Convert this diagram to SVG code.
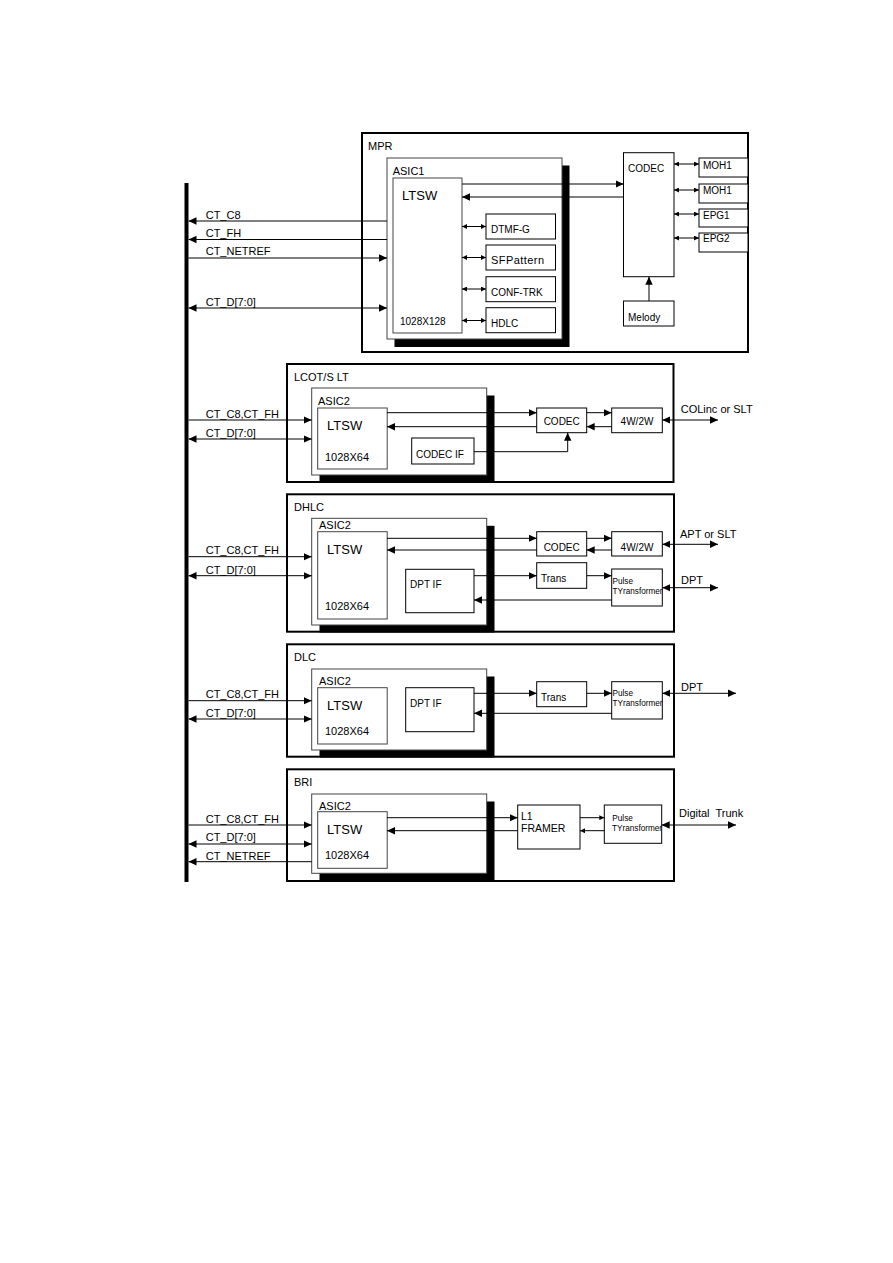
<svg xmlns="http://www.w3.org/2000/svg" width="893" height="1263" viewBox="0 0 893 1263">
<style>
.sec{fill:#fff;stroke:#000;stroke-width:2}
.box{fill:#fff;stroke:#000;stroke-width:1}
.asic{fill:#fff;stroke:#444;stroke-width:1}
.sh{fill:#000}
text{font-family:"Liberation Sans",Arial,sans-serif;fill:#000}
.t11{font-size:11px}
.t10{font-size:10px}
.t95{font-size:10px}
.t13{font-size:13px}
.t8{font-size:8.2px}
.c{stroke:#000;stroke-width:1;fill:none}
.b{marker-end:url(#a)}
.bb{marker-start:url(#a);marker-end:url(#a)}
.s{marker-end:url(#sa)}
.ss{marker-start:url(#sa);marker-end:url(#sa)}
</style>
<defs>
<marker id="a" markerUnits="userSpaceOnUse" markerWidth="8" markerHeight="8" refX="8" refY="4" orient="auto-start-reverse" viewBox="0 0 8 8"><path d="M0,0.3 L8,4 L0,7.7 z" fill="#000"/></marker>
<marker id="sa" markerUnits="userSpaceOnUse" markerWidth="5" markerHeight="5" refX="5" refY="2.5" orient="auto-start-reverse" viewBox="0 0 5 5"><path d="M0,0 L5,2.5 L0,5 z" fill="#000"/></marker>
</defs>
<rect width="893" height="1263" fill="#fff"/>

<g id="bus"><line x1="186.5" y1="183" x2="186.5" y2="882" stroke="#000" stroke-width="4"/></g>

<!-- MPR -->
<g id="mpr">
<rect class="sec" x="362" y="133" width="386" height="219"/>
<text class="t11" x="368" y="149.7">MPR</text>
</g>
<g id="mpr-asic1">
<rect class="sh" x="394.5" y="165.5" width="175" height="181.5"/>
<rect class="asic" x="387" y="158" width="175" height="181"/>
<text class="t11" x="392.7" y="174.7">ASIC1</text>
</g>
<g id="mpr-ltsw">
<rect class="asic" x="393" y="178" width="69" height="155"/>
<text class="t13" x="402" y="200">LTSW</text>
<text class="t10" x="400" y="324.6">1028X128</text>
</g>
<g id="mpr-dtmf"><rect class="box" x="486" y="214" width="69.5" height="25"/><text class="t10" x="491" y="233">DTMF-G</text></g>
<g id="mpr-sfp"><rect class="box" x="486" y="245" width="69.5" height="25"/><text class="t11" x="491" y="264.3" textLength="53" lengthAdjust="spacing">SFPattern</text></g>
<g id="mpr-conf"><rect class="box" x="486" y="276.7" width="69.5" height="25"/><text class="t10" x="491" y="296">CONF-TRK</text></g>
<g id="mpr-hdlc"><rect class="box" x="486" y="307.7" width="69.5" height="25"/><text class="t10" x="491" y="327">HDLC</text></g>
<g id="mpr-codec"><rect class="box" x="623.5" y="152.7" width="50.5" height="124"/><text class="t10" x="628" y="172">CODEC</text></g>
<g id="mpr-melody"><rect class="box" x="623.5" y="301" width="50.5" height="25"/><text class="t10" x="628" y="321">Melody</text></g>
<g id="mpr-moh1a"><rect class="box" x="699" y="158" width="49" height="19"/><text class="t95" x="703" y="168.5">MOH1</text></g>
<g id="mpr-moh1b"><rect class="box" x="699" y="184" width="49" height="19"/><text class="t95" x="703" y="194">MOH1</text></g>
<g id="mpr-epg1"><rect class="box" x="699" y="209" width="49" height="18"/><text class="t95" x="703" y="218.5">EPG1</text></g>
<g id="mpr-epg2"><rect class="box" x="699" y="233" width="49" height="19"/><text class="t95" x="703" y="242">EPG2</text></g>

<!-- LCOT/SLT -->
<g id="lcot">
<rect class="sec" x="287" y="364" width="386.5" height="118"/>
<text class="t11" x="294" y="380.5" xml:space="preserve">LCOT/S LT</text>
</g>
<g id="lcot-asic2">
<rect class="sh" x="319.5" y="395.5" width="175" height="87"/>
<rect class="asic" x="311.7" y="388" width="175" height="87"/>
<text class="t11" x="318" y="405.2">ASIC2</text>
</g>
<g id="lcot-ltsw">
<rect class="asic" x="317.7" y="408" width="69.5" height="61"/>
<text class="t13" x="327" y="429.7">LTSW</text>
<text class="t11" x="325" y="460.6">1028X64</text>
</g>
<g id="lcot-codecif"><rect class="box" x="411.7" y="438" width="62.3" height="26"/><text class="t10" x="416" y="458">CODEC IF</text></g>
<g id="lcot-codec"><rect class="box" x="536.7" y="408" width="50" height="24.7"/><text class="t10" x="561.7" y="424.5" text-anchor="middle">CODEC</text></g>
<g id="lcot-4w2w"><rect class="box" x="611.7" y="408" width="50.6" height="24.7"/><text class="t10" x="637" y="424.5" text-anchor="middle">4W/2W</text></g>

<!-- DHLC -->
<g id="dhlc">
<rect class="sec" x="287" y="494.3" width="387" height="137.4"/>
<text class="t11" x="294" y="510.5">DHLC</text>
</g>
<g id="dhlc-asic2">
<rect class="sh" x="319.5" y="525.8" width="175" height="106.7"/>
<rect class="asic" x="311.7" y="518.3" width="175" height="106.7"/>
<text class="t11" x="319" y="529">ASIC2</text>
</g>
<g id="dhlc-ltsw">
<rect class="asic" x="317.7" y="531.7" width="69.5" height="87.3"/>
<text class="t13" x="327" y="554">LTSW</text>
<text class="t11" x="325" y="610">1028X64</text>
</g>
<g id="dhlc-dptif"><rect class="box" x="405.7" y="569.3" width="68.3" height="43.4"/><text class="t10" x="410" y="588">DPT IF</text></g>
<g id="dhlc-codec"><rect class="box" x="536.7" y="531.7" width="50" height="24.3"/><text class="t10" x="561.7" y="551" text-anchor="middle">CODEC</text></g>
<g id="dhlc-4w2w"><rect class="box" x="611.7" y="531.7" width="50.6" height="24.3"/><text class="t10" x="637" y="551" text-anchor="middle">4W/2W</text></g>
<g id="dhlc-trans"><rect class="box" x="536.7" y="562.7" width="50" height="25.6"/><text class="t10" x="541" y="582">Trans</text></g>
<g id="dhlc-pulse"><rect class="box" x="611.7" y="569" width="50.6" height="37"/><text class="t8" x="612.5" y="583.5">Pulse</text><text class="t8" x="612.5" y="594">TYransformer</text></g>

<!-- DLC -->
<g id="dlc">
<rect class="sec" x="287" y="644.3" width="387" height="112.4"/>
<text class="t11" x="294" y="660.5">DLC</text>
</g>
<g id="dlc-asic2">
<rect class="sh" x="319.5" y="676.5" width="175" height="81"/>
<rect class="asic" x="311.7" y="669" width="175" height="81"/>
<text class="t11" x="319" y="685.3">ASIC2</text>
</g>
<g id="dlc-ltsw">
<rect class="asic" x="317.7" y="687.7" width="69.5" height="56.3"/>
<text class="t13" x="327" y="709.7">LTSW</text>
<text class="t11" x="325" y="734.6">1028X64</text>
</g>
<g id="dlc-dptif"><rect class="box" x="405.7" y="687.7" width="68.3" height="44"/><text class="t10" x="410" y="707">DPT IF</text></g>
<g id="dlc-trans"><rect class="box" x="536.7" y="681.7" width="50" height="25"/><text class="t10" x="541" y="701">Trans</text></g>
<g id="dlc-pulse"><rect class="box" x="611.7" y="681.7" width="50.6" height="37.3"/><text class="t8" x="612.5" y="695.5">Pulse</text><text class="t8" x="612.5" y="706">TYransformer</text></g>

<!-- BRI -->
<g id="bri">
<rect class="sec" x="287" y="769.3" width="387" height="111.7"/>
<text class="t11" x="294" y="785.5">BRI</text>
</g>
<g id="bri-asic2">
<rect class="sh" x="319.5" y="801.5" width="175" height="79.5"/>
<rect class="asic" x="311.7" y="794" width="175" height="79.3"/>
<text class="t11" x="319" y="809.6">ASIC2</text>
</g>
<g id="bri-ltsw">
<rect class="asic" x="317.7" y="811.7" width="69.5" height="56.6"/>
<text class="t13" x="327" y="834">LTSW</text>
<text class="t11" x="325" y="859">1028X64</text>
</g>
<g id="bri-l1"><rect class="box" x="517.7" y="805" width="62.3" height="44"/><text class="t10" x="521" y="819.5" style="font-size:10.5px">L1</text><text class="t10" x="521" y="832" style="font-size:10.5px">FRAMER</text></g>
<g id="bri-pulse"><rect class="box" x="604.3" y="805" width="57.4" height="38.3"/><text class="t8" x="612.3" y="820.5">Pulse</text><text class="t8" x="612" y="830.5">TYransformer</text></g>

<!-- connectors -->
<g id="connectors">
<!-- MPR -->
<line class="c b" x1="387" y1="221" x2="188.5" y2="221"/>
<line class="c b" x1="387" y1="239.5" x2="188.5" y2="239.5"/>
<line class="c b" x1="188.5" y1="258" x2="387" y2="258"/>
<line class="c bb" x1="188.5" y1="308" x2="387" y2="308"/>
<line class="c b" x1="462" y1="184" x2="623.5" y2="184"/>
<line class="c b" x1="623.5" y1="197" x2="462" y2="197"/>
<line class="c ss" x1="462" y1="226.5" x2="486" y2="226.5"/>
<line class="c ss" x1="462" y1="257.5" x2="486" y2="257.5"/>
<line class="c ss" x1="462" y1="289" x2="486" y2="289"/>
<line class="c ss" x1="462" y1="320.5" x2="486" y2="320.5"/>
<line class="c ss" x1="674" y1="164" x2="699" y2="164"/>
<line class="c ss" x1="674" y1="190" x2="699" y2="190"/>
<line class="c ss" x1="674" y1="214" x2="699" y2="214"/>
<line class="c ss" x1="674" y1="238" x2="699" y2="238"/>
<line class="c b" x1="649" y1="301" x2="649" y2="276.7"/>
<!-- LCOT -->
<line class="c b" x1="188.5" y1="420" x2="311.7" y2="420"/>
<line class="c bb" x1="188.5" y1="439" x2="311.7" y2="439"/>
<line class="c b" x1="387" y1="412.7" x2="536.7" y2="412.7"/>
<line class="c b" x1="536.7" y1="426.7" x2="387" y2="426.7"/>
<polyline class="c b" points="474,451.7 567.7,451.7 567.7,432.7"/>
<line class="c b" x1="586.7" y1="412.7" x2="611.7" y2="412.7"/>
<line class="c b" x1="611.7" y1="426.7" x2="586.7" y2="426.7"/>
<line class="c bb" x1="662.3" y1="420" x2="718" y2="420"/>
<text class="t11" x="680.7" y="413">COLinc or SLT</text>
<text class="t11" x="205.7" y="418.3">CT_C8,CT_FH</text>
<text class="t11" x="205.7" y="436.6">CT_D[7:0]</text>
<!-- DHLC -->
<line class="c b" x1="188.5" y1="556.7" x2="311.7" y2="556.7"/>
<line class="c bb" x1="188.5" y1="575.7" x2="311.7" y2="575.7"/>
<line class="c b" x1="387" y1="538.3" x2="536.7" y2="538.3"/>
<line class="c b" x1="536.7" y1="550" x2="387" y2="550"/>
<line class="c b" x1="586.7" y1="538.3" x2="611.7" y2="538.3"/>
<line class="c b" x1="611.7" y1="550" x2="586.7" y2="550"/>
<line class="c bb" x1="662.3" y1="544.3" x2="718" y2="544.3"/>
<line class="c b" x1="474" y1="575.7" x2="536.7" y2="575.7"/>
<line class="c b" x1="586.7" y1="575.7" x2="611.7" y2="575.7"/>
<line class="c b" x1="611.7" y1="600" x2="474" y2="600"/>
<line class="c bb" x1="662.3" y1="587.7" x2="718" y2="587.7"/>
<text class="t11" x="680" y="538">APT or SLT</text>
<text class="t11" x="681" y="584">DPT</text>
<text class="t11" x="205.7" y="554">CT_C8,CT_FH</text>
<text class="t11" x="205.7" y="574">CT_D[7:0]</text>
<!-- DLC -->
<line class="c b" x1="188.5" y1="700.7" x2="311.7" y2="700.7"/>
<line class="c bb" x1="188.5" y1="719" x2="311.7" y2="719"/>
<line class="c b" x1="474" y1="693.3" x2="536.7" y2="693.3"/>
<line class="c b" x1="586.7" y1="693.3" x2="611.7" y2="693.3"/>
<line class="c b" x1="611.7" y1="713.3" x2="474" y2="713.3"/>
<line class="c bb" x1="662.3" y1="693.3" x2="736" y2="693.3"/>
<text class="t11" x="681" y="691.3">DPT</text>
<text class="t11" x="205.7" y="698">CT_C8,CT_FH</text>
<text class="t11" x="205.7" y="716.6">CT_D[7:0]</text>
<!-- BRI -->
<line class="c b" x1="188.5" y1="825" x2="311.7" y2="825"/>
<line class="c bb" x1="188.5" y1="844" x2="311.7" y2="844"/>
<line class="c b" x1="311.7" y1="861.7" x2="188.5" y2="861.7"/>
<line class="c b" x1="387" y1="817.7" x2="517.7" y2="817.7"/>
<line class="c b" x1="517.7" y1="830.7" x2="387" y2="830.7"/>
<line class="c s" x1="580" y1="817.7" x2="604.3" y2="817.7"/>
<line class="c s" x1="604.3" y1="830.7" x2="580" y2="830.7"/>
<line class="c bb" x1="661.7" y1="825" x2="736" y2="825"/>
<text class="t11" x="679" y="817.3" xml:space="preserve">Digital  Trunk</text>
<text class="t11" x="205.7" y="823">CT_C8,CT_FH</text>
<text class="t11" x="205.7" y="841.3">CT_D[7:0]</text>
<text class="t11" x="205.7" y="859.7">CT_NETREF</text>
<!-- MPR labels -->
<text class="t11" x="205.7" y="219">CT_C8</text>
<text class="t11" x="205.7" y="237.3">CT_FH</text>
<text class="t11" x="205.7" y="254.7">CT_NETREF</text>
<text class="t11" x="205.7" y="305.7">CT_D[7:0]</text>
</g>
</svg>
